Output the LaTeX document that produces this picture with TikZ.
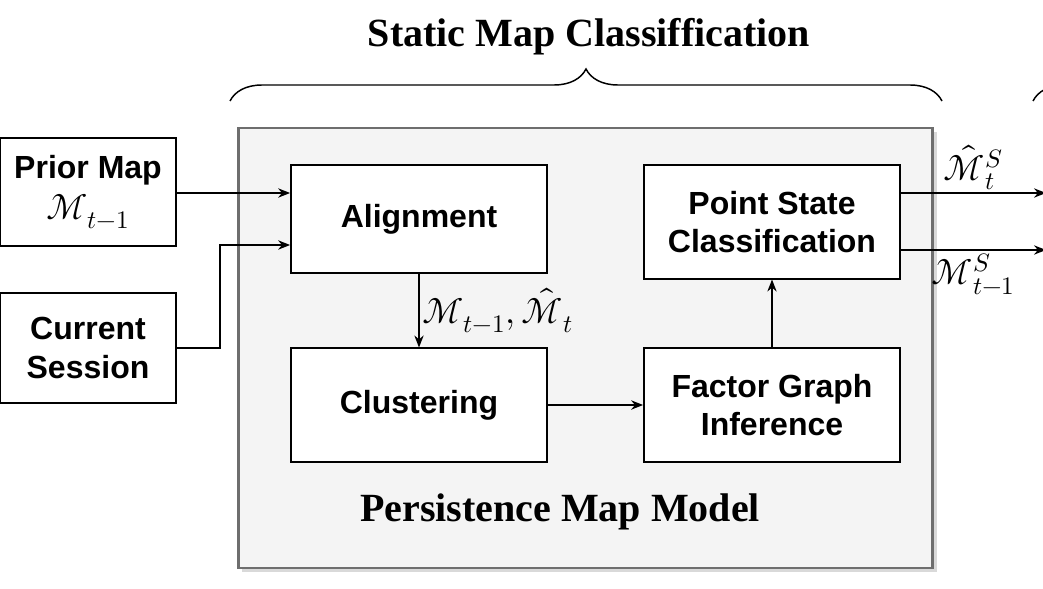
\documentclass[tikz,border=0pt]{standalone}
\usepackage{fontspec}
\usepackage{unicode-math}
\setmainfont{Liberation Serif}
\setsansfont{Liberation Sans}
\setmathfont{Latin Modern Math}
\usetikzlibrary{arrows.meta,decorations.pathreplacing,shadows}
\begin{document}
\begin{tikzpicture}[x=0.75pt,y=-0.75pt,
  blk/.style={draw,line width=1.3pt,fill=white,align=center,font=\sffamily\bfseries\fontsize{24}{29}\selectfont,inner sep=0},
  arr/.style={-{Stealth[length=9pt,width=7pt]},line width=1.1pt},
  lbl/.style={font=\fontsize{27}{29}\selectfont,inner sep=2pt},
  brc/.style={decorate,decoration={brace,amplitude=24pt},line width=1.1pt}]
\useasboundingbox (0,0) rectangle (1043,589);
\clip (0,0) rectangle (1043,589);
\node[draw={rgb,255:red,110;green,110;blue,110},line width=2.2pt,fill={rgb,255:red,244;green,244;blue,244},
  drop shadow={shadow xshift=3pt,shadow yshift=-3pt,opacity=0.3},minimum width=521pt,minimum height=330pt] (big) at (585.5,348) {};
\node[blk,minimum width=132pt,minimum height=81pt] (prior) at (88,192) {Prior Map\\[2pt] \mdseries\rmfamily\fontsize{27}{29}\selectfont$\mathcal{M}_{t-1}$};
\node[blk,minimum width=132pt,minimum height=82pt] (cur) at (88,348) {Current\\Session};
\node[blk,minimum width=192pt,minimum height=81pt] (al) at (419,219) {Alignment};
\node[blk,minimum width=192pt,minimum height=85pt] (cl) at (419,405) {Clustering};
\node[blk,minimum width=192pt,minimum height=85pt] (fg) at (772,405) {Factor Graph\\Inference};
\node[blk,minimum width=192pt,minimum height=85pt] (ps) at (772,222) {Point State\\Classification};
\draw[arr] (prior.east |- 0,193) -- (al.west |- 0,193);
\draw[arr] (cur.east) -- (220,348) -- (220,245) -- (al.west |- 0,245);
\draw[arr] (al.south) -- node[right,lbl]{$\mathcal{M}_{t-1},\hat{\mathcal{M}}_t$} (cl.north);
\draw[arr] (cl.east) -- (fg.west);
\draw[arr] (fg.north) -- (ps.south);
\coordinate (o1) at (1046,193); \coordinate (o2) at (1046,250);
\draw[arr] (ps.east |- o1) -- node[above,lbl,pos=0.5]{$\hat{\mathcal{M}}^S_t$} (o1);
\draw[arr] (ps.east |- o2) -- node[below,lbl,pos=0.5]{$\mathcal{M}^S_{t-1}$} (o2);
\draw[brc] (230,101) -- (942,101);
\draw[brc] (1033,101) -- (1700,101);
\node[font=\bfseries\fontsize{30}{33}\selectfont] (t) at (589,37) {Static Map Classiffication};
\node[font=\bfseries\fontsize{30}{33}\selectfont] (pm) at (560,512) {Persistence Map Model};
\end{tikzpicture}
\end{document}
